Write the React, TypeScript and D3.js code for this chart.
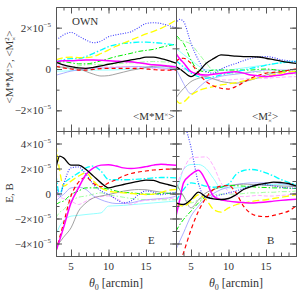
import { useEffect, useRef } from 'react';
import * as d3 from 'd3';

// angular scale theta_0 [arcmin] at which every curve is sampled
const theta = [3, 3.5, 4, 5, 6, 7, 8, 9, 10, 11, 12, 13, 14, 15, 16, 17, 18, 19];

// series order: black, blue, yellow, cyan, green, magenta, red, gray, lightcyan, lightgreen, lightblue, pink
const seriesKeys = ['black', 'blue', 'yellow', 'cyan', 'green', 'magenta', 'red', 'gray', 'lightcyan', 'lightgreen', 'lightblue', 'pink'];

// values in units of 1e-5
const crossOwn = [
  [0.32, 0.26, 0.2, 0.11, 0.05, 0.03, 0.08, 0.15, 0.23, 0.3, 0.37, 0.44, 0.5, 0.57, 0.57, 0.5, 0.4, 0.28],
  [1.44, 1.52, 1.65, 1.77, 1.6, 1.4, 1.27, 1.35, 1.56, 1.65, 1.72, 1.8, 2.0, 2.2, 2.24, 2.2, 2.1, 2.0],
  [0.44, 0.5, 0.55, 0.57, 0.55, 0.55, 0.6, 0.75, 0.92, 1.1, 1.25, 1.4, 1.55, 1.7, 1.82, 1.97, 2.15, 2.37],
  [0.35, 0.4, 0.45, 0.5, 0.5, 0.6, 0.76, 0.92, 1.08, 1.18, 1.24, 1.27, 1.3, 1.3, 1.28, 1.25, 1.2, 1.16],
  [0.3, 0.33, 0.35, 0.3, 0.25, 0.25, 0.3, 0.4, 0.5, 0.6, 0.68, 0.76, 0.85, 0.9, 0.95, 1.05, 1.13, 1.21],
  [0.35, 0.38, 0.4, 0.4, 0.42, 0.44, 0.44, 0.42, 0.4, 0.38, 0.36, 0.35, 0.3, 0.25, 0.2, 0.18, 0.14, 0.1],
  [0.13, 0.09, 0.05, 0, -0.05, -0.05, -0.02, 0.02, 0.03, 0.03, 0.03, 0.03, 0.03, 0, -0.03, -0.05, -0.05, -0.05],
  [0.13, 0.1, 0.08, 0.03, 0, -0.12, -0.25, -0.34, -0.32, -0.24, -0.15, -0.06, 0, 0.08, 0.13, 0.15, 0.1, 0.02],
  [-0.1, -0.1, -0.1, -0.08, -0.06, -0.05, -0.05, -0.05, -0.05, -0.04, -0.02, 0, 0.02, 0.05, 0.08, 0.1, 0.12, 0.15],
  [0.05, 0.08, 0.1, 0.1, 0.15, 0.2, 0.22, 0.22, 0.22, 0.25, 0.28, 0.3, 0.32, 0.35, 0.36, 0.35, 0.33, 0.3],
  [-0.3, -0.25, -0.2, -0.1, -0.05, 0, 0.05, 0.05, 0.05, 0.08, 0.1, 0.12, 0.12, 0.1, 0.08, 0.05, 0.03, 0],
  [0.2, 0.18, 0.15, 0.1, 0.05, 0.05, 0.05, 0.08, 0.1, 0.1, 0.12, 0.1, 0.08, 0.05, 0.02, 0, -0.05, -0.08],
];

const squareOwn = [
  [0.11, 0.0, -0.13, -0.37, -0.13, 0.27, 0.5, 0.68, 0.66, 0.62, 0.6, 0.6, 0.58, 0.52, 0.45, 0.38, 0.32, 0.27],
  [2.2, 2.4, 2.3, 1.24, 0.43, -0.13, -0.2, 0, 0.15, 0.27, 0.4, 0.52, 0.58, 0.6, 0.55, 0.45, 0.4, 0.35],
  [-1.5, -1.66, -1.6, -1.26, -1.05, -0.93, -0.85, -0.77, -0.72, -0.66, -0.58, -0.5, -0.42, -0.35, -0.28, -0.2, -0.15, -0.1],
  [0.43, 0.25, 0.1, -0.2, -0.37, -0.45, -0.38, -0.29, -0.2, -0.13, -0.05, 0.03, 0.1, 0.19, 0.25, 0.3, 0.33, 0.35],
  [1.64, 1.45, 1.24, 0.43, -0.05, -0.13, -0.05, -0.05, -0.05, -0.05, -0.05, -0.05, -0.02, 0, -0.03, -0.08, -0.1, -0.13],
  [0.76, 0.5, 0.3, -0.13, -0.25, -0.29, -0.25, -0.2, -0.16, -0.13, -0.2, -0.29, -0.33, -0.37, -0.33, -0.29, -0.22, -0.18],
  [0.35, 0.5, 0.52, 0.27, -0.2, -0.6, -0.82, -0.93, -0.97, -0.85, -0.65, -0.45, -0.3, -0.2, -0.16, -0.13, -0.06, 0],
  [-1.4, -1.15, -0.95, -0.61, -0.45, -0.37, -0.48, -0.6, -0.66, -0.69, -0.62, -0.53, -0.42, -0.29, -0.2, -0.13, -0.06, 0],
  [1.0, 0.85, 0.7, 0.43, 0.15, -0.05, -0.05, -0.05, -0.05, 0, 0.05, 0.1, 0.15, 0.19, 0.25, 0.3, 0.35, 0.4],
  [1.5, 1.42, 1.35, 1.2, 0.76, 0.3, -0.1, -0.2, -0.2, -0.2, -0.18, -0.15, -0.15, -0.15, -0.18, -0.2, -0.22, -0.25],
  [0, -0.35, -0.7, -1.2, -0.9, -0.6, -0.45, -0.35, -0.29, -0.25, -0.2, -0.15, -0.1, -0.05, -0.05, -0.05, -0.05, -0.05],
  [0.1, 0.05, 0, -0.15, -0.3, -0.4, -0.48, -0.52, -0.53, -0.5, -0.48, -0.46, -0.45, -0.45, -0.42, -0.4, -0.38, -0.37],
];

const eMode = [
  [2.05, 2.99, 2.85, 2.27, 2.27, 1.92, 1.39, 0.85, 0.45, 0.59, 0.72, 0.85, 0.97, 1.07, 1.05, 0.85, 0.7, 0.55],
  [0.72, -0.21, 0.72, 2.05, 2.12, 1.52, 0.72, 0.2, -0.08, -0.45, -0.75, -0.6, -0.1, 0.2, 0.1, -0.1, 0, 0.1],
  [3.92, 1.79, 0.59, 0.99, 1.39, 1.65, 0.99, 0.45, 0.19, 0.1, 0.05, 0, -0.05, -0.08, -0.05, 0.1, 0.25, 0.32],
  [1.52, -0.08, 0.72, 1.25, 1.65, 2.05, 2.19, 1.79, 1.12, 1.1, 1.1, 1.12, 1.15, 1.2, 1.25, 1.28, 1.28, 1.25],
  [-0.88, -0.7, -0.61, -0.08, 0.2, 0.45, 0.45, 0.45, 0.35, 0.2, 0.1, 0.05, 0, -0.05, -0.05, 0, 0.02, 0.05],
  [-4.6, -3.7, -2.75, -0.75, 0.45, 1.52, 2.05, 2.27, 2.3, 2.2, 2.05, 2.0, 2.05, 2.15, 2.27, 2.35, 2.3, 2.25],
  [-4.6, -3.5, -2.4, -0.2, 0.9, 1.3, 0.8, 0.55, 0.85, 1.1, 1.4, 1.6, 1.72, 1.8, 1.88, 1.92, 1.95, 1.95],
  [-4.3, -3.9, -3.5, -2.75, -1.41, -0.75, -0.35, -0.2, -0.08, 0.05, 0.19, 0.28, 0.32, 0.3, 0.2, 0.1, 0.0, -0.1],
  [-3.28, -2.6, -2.2, -1.81, -1.75, -1.68, -1.62, -1.55, -1.01, -0.98, -0.95, -0.9, -0.85, -0.8, -0.75, -0.7, -0.65, -0.6],
  [-1.95, -1.5, -1.3, -0.61, -0.3, -0.2, -0.05, 0.05, -0.1, -0.2, -0.3, -0.4, -0.45, -0.5, -0.5, -0.5, -0.5, -0.5],
  [-0.61, -0.3, -0.08, 0.45, 0.5, 0.32, -0.2, -0.5, -0.7, -0.8, -0.8, -0.75, -0.61, -0.5, -0.45, -0.4, -0.35, -0.21],
  [-0.08, -0.3, -0.4, -0.61, -0.88, -0.61, -0.35, -0.25, -0.2, -0.4, -0.7, -0.88, -0.65, -0.55, -0.5, -0.45, -0.4, -0.35],
];

const bMode = [
  [-0.75, -0.85, -0.88, -0.48, 0.11, -0.27, -0.43, -0.48, -0.4, -0.1, 0.32, 0.55, 0.72, 0.82, 0.91, 0.88, 0.8, 0.6],
  [8, 7, 5.9, 3.7, 0.8, -0.35, -0.25, -0.1, 0.05, 0.2, 0.4, 0.6, 0.7, 0.7, 0.6, 0.5, 0.45, 0.4],
  [-0.88, -0.95, -1.01, -0.61, -0.1, -0.48, -1.28, -1.49, -1.15, -0.9, -0.75, -0.65, -0.55, -0.5, -0.4, -0.3, -0.2, -0.1],
  [-0.61, -0.1, 0.32, 0.85, 0.75, 0.59, 0.5, 0.55, 0.75, 1.52, 1.84, 1.92, 1.85, 1.65, 1.4, 1.12, 0.9, 0.72],
  [-3.0, -2.5, -2.08, -1.41, -0.75, -0.21, 0.32, 0.5, 0.64, 0.62, 0.59, 0.55, 0.5, 0.48, 0.45, 0.45, 0.42, 0.4],
  [-1.81, -0.5, 0.85, 1.52, 1.86, 0.99, -0.21, -0.5, -0.61, -0.68, -0.72, -0.75, -0.72, -0.68, -0.61, -0.55, -0.5, -0.45],
  [-6.5, -5.6, -4.75, -2.9, -1.41, -0.35, 0.32, 0.59, 0.64, 0.05, -1.01, -1.6, -1.81, -1.85, -1.75, -1.6, -1.41, -1.01],
  [0.85, 0.3, -0.2, -1.15, -0.5, 0.05, 0.32, 0.5, 0.64, 0.7, 0.75, 0.72, 0.7, 0.65, 0.62, 0.6, 0.58, 0.55],
  [0, 1.0, 1.92, 2.32, 2.32, 2.0, 1.2, 0.45, 0.45, 0.45, 0.5, 0.6, 0.7, 0.72, 0.72, 0.7, 0.7, 0.7],
  [0.59, 0.3, -0.21, -0.75, -0.5, -0.21, -0.1, -0.05, -0.05, -0.05, 0, 0.05, 0.05, 0.1, 0.1, 0.15, 0.15, 0.2],
  [-4.5, -3.8, -3.15, -1.81, -1.01, -0.35, 0.0, 0.32, 0.5, 0.72, 0.8, 0.85, 0.85, 0.85, 0.85, 0.8, 0.7, 0.5],
  [0.59, 1.3, 1.92, 2.85, 2.9, 2.93, 2.19, 0.85, 0.2, -0.2, -0.25, -0.2, -0.15, -0.2, -0.2, -0.15, -0.1, 0.05],
];

const xMajorTicks = [5, 10, 15];
const yTopTicks = [-2, 0, 2];
const yBottomTicks = [-4, -2, 0, 2, 4];

type Style = { color: string; width: number; dash: string | null };
const STYLES: Record<string, Style> = {
  black: { color: '#000000', width: 1.3, dash: null },
  blue: { color: '#3a3aff', width: 1.1, dash: '1 1.5' },
  yellow: { color: '#ffff00', width: 1.3, dash: '7 3' },
  cyan: { color: '#00ffff', width: 1.3, dash: '6 2 1.5 2' },
  green: { color: '#00ee00', width: 1, dash: '5 2 1.5 2' },
  magenta: { color: '#ff00ff', width: 1.5, dash: null },
  red: { color: '#ff0000', width: 1.2, dash: '4 3' },
  gray: { color: '#8a8a8a', width: 0.8, dash: null },
  lightcyan: { color: '#77ffff', width: 0.8, dash: null },
  lightgreen: { color: '#88ff88', width: 0.8, dash: '5 2 1.5 2' },
  lightblue: { color: '#9999ff', width: 0.8, dash: null },
  pink: { color: '#ff99ff', width: 0.8, dash: '4 2' },
};
const DRAW_ORDER = ['lightcyan', 'lightgreen', 'lightblue', 'pink', 'gray', 'green', 'cyan', 'yellow', 'red', 'blue', 'magenta', 'black'];

const FONT = 'Liberation Serif, DejaVu Serif, serif';
const FRAME = '#555';

export default function App() {
  const svgRef = useRef<SVGSVGElement | null>(null);

  useEffect(() => {
    const svgElement = svgRef.current;
    if (!svgElement) return;
    const svg = d3.select(svgElement);
    svg.selectAll('*').remove();

    const cols = [
      [56, 176],
      [176, 296],
    ];
    const rows = [
      [7, 131],
      [131, 256],
    ];
    const domains = [
      [-3, 3],
      [-5, 5],
    ];
    const panels = [
      { data: crossOwn, col: 0, row: 0 },
      { data: squareOwn, col: 1, row: 0 },
      { data: eMode, col: 0, row: 1 },
      { data: bMode, col: 1, row: 1 },
    ];
    const xMinor = d3.range(4, 19);

    panels.forEach((p, i) => {
      const [x0, x1] = cols[p.col];
      const [y0, y1] = rows[p.row];
      const x = d3.scaleLinear().domain([3, 19]).range([x0, x1]);
      const y = d3.scaleLinear().domain(domains[p.row]).range([y1, y0]);
      const yMinor = d3.range(domains[p.row][0] + 1, domains[p.row][1]);
      const yMajor = p.row === 0 ? yTopTicks : yBottomTicks;

      const clipId = `panel-clip-${i}`;
      svg
        .append('clipPath')
        .attr('id', clipId)
        .append('rect')
        .attr('x', x0)
        .attr('y', y0)
        .attr('width', x1 - x0)
        .attr('height', y1 - y0);

      const layer = svg.append('g').attr('clip-path', `url(#${clipId})`);
      const line = d3
        .line<number>()
        .x((_, j) => x(theta[j]))
        .y((v) => y(v))
        .curve(d3.curveMonotoneX);

      DRAW_ORDER.forEach((key) => {
        const s = STYLES[key];
        const values = p.data[seriesKeys.indexOf(key)];
        layer
          .append('path')
          .attr('d', line(values))
          .attr('fill', 'none')
          .attr('stroke', s.color)
          .attr('stroke-width', s.width)
          .attr('stroke-dasharray', s.dash);
      });

      const axes = svg.append('g').attr('color', FRAME);
      const addAxis = (axis: d3.Axis<d3.NumberValue>, tx: number, ty: number) => {
        axes
          .append('g')
          .attr('transform', `translate(${tx},${ty})`)
          .call(axis.tickSizeOuter(0).tickFormat(() => ''))
          .call((g) => g.selectAll('line,path').attr('stroke-width', 1));
      };
      addAxis(d3.axisBottom(x).tickValues(xMinor).tickSize(-3.5), 0, y1);
      addAxis(d3.axisBottom(x).tickValues(xMajorTicks).tickSize(-6.5), 0, y1);
      addAxis(d3.axisTop(x).tickValues(xMinor).tickSize(-3.5), 0, y0);
      addAxis(d3.axisTop(x).tickValues(xMajorTicks).tickSize(-6.5), 0, y0);
      addAxis(d3.axisLeft(y).tickValues(yMinor).tickSize(-3.5), x0, 0);
      addAxis(d3.axisLeft(y).tickValues(yMajor).tickSize(-6), x0, 0);
      addAxis(d3.axisRight(y).tickValues(yMinor).tickSize(-3.5), x1, 0);
      addAxis(d3.axisRight(y).tickValues(yMajor).tickSize(-6), x1, 0);

      if (p.col === 0) {
        yMajor.forEach((v) => {
          const t = svg
            .append('text')
            .attr('x', 51)
            .attr('y', y(v) + 4)
            .attr('text-anchor', 'end')
            .attr('font-family', FONT)
            .attr('font-size', 11)
            .attr('fill', '#333');
          if (v === 0) {
            t.text('0');
          } else {
            t.append('tspan').text(`${v < 0 ? '\u2212' : ''}${Math.abs(v)}\u00d710`);
            t.append('tspan').attr('font-size', 7).attr('dy', -5).text('\u22125');
          }
        });
      }

      if (p.row === 1) {
        xMajorTicks.forEach((v) => {
          svg
            .append('text')
            .attr('x', x(v))
            .attr('y', 270)
            .attr('text-anchor', 'middle')
            .attr('font-family', FONT)
            .attr('font-size', 11)
            .attr('fill', '#333')
            .text(v);
        });
        const lab = svg
          .append('text')
          .attr('x', (x0 + x1) / 2)
          .attr('y', 287)
          .attr('text-anchor', 'middle')
          .attr('font-family', FONT)
          .attr('font-size', 12)
          .attr('fill', '#333');
        lab.append('tspan').attr('font-style', 'italic').text('\u03b8');
        lab.append('tspan').attr('font-size', 8).attr('dy', 3).text('0');
        lab.append('tspan').attr('dy', -3).text(' [arcmin]');
      }
    });

    const txt = (xPos: number, yPos: number, size = 11) =>
      svg.append('text').attr('x', xPos).attr('y', yPos).attr('font-family', FONT).attr('font-size', size).attr('fill', '#333');

    txt(72, 25).text('OWN');
    txt(148, 244).text('E');
    txt(267, 244).text('B');

    const mm = txt(133, 120);
    mm.append('tspan').text('<M*M');
    mm.append('tspan').attr('font-size', 7).attr('dy', -3).text('\u00d7');
    mm.append('tspan').attr('dy', 3).text('>');

    const m2 = txt(252, 120);
    m2.append('tspan').text('<M');
    m2.append('tspan').attr('font-size', 7).attr('dy', -4).text('2');
    m2.append('tspan').attr('font-size', 7).attr('dx', -3.5).attr('dy', 7).text('\u00d7');
    m2.append('tspan').attr('dy', -3).text('>');

    const yt = svg
      .append('text')
      .attr('transform', 'translate(13,67) rotate(-90)')
      .attr('text-anchor', 'middle')
      .attr('font-family', FONT)
      .attr('font-size', 11)
      .attr('fill', '#333');
    yt.append('tspan').text('<M*M');
    yt.append('tspan').attr('font-size', 7).attr('dy', -3).text('\u00d7');
    yt.append('tspan').attr('dy', 3).text('>, <M');
    yt.append('tspan').attr('font-size', 7).attr('dy', -4).text('2');
    yt.append('tspan').attr('font-size', 7).attr('dx', -3.5).attr('dy', 7).text('\u00d7');
    yt.append('tspan').attr('dy', -3).text('>');

    svg
      .append('text')
      .attr('transform', 'translate(13,193) rotate(-90)')
      .attr('text-anchor', 'middle')
      .attr('font-family', FONT)
      .attr('font-size', 11)
      .attr('fill', '#333')
      .text('E, B');
  }, []);

  return <svg ref={svgRef} width={303} height={303} style={{ position: 'absolute', left: 0, top: 0, background: '#fff' }} />;
}
